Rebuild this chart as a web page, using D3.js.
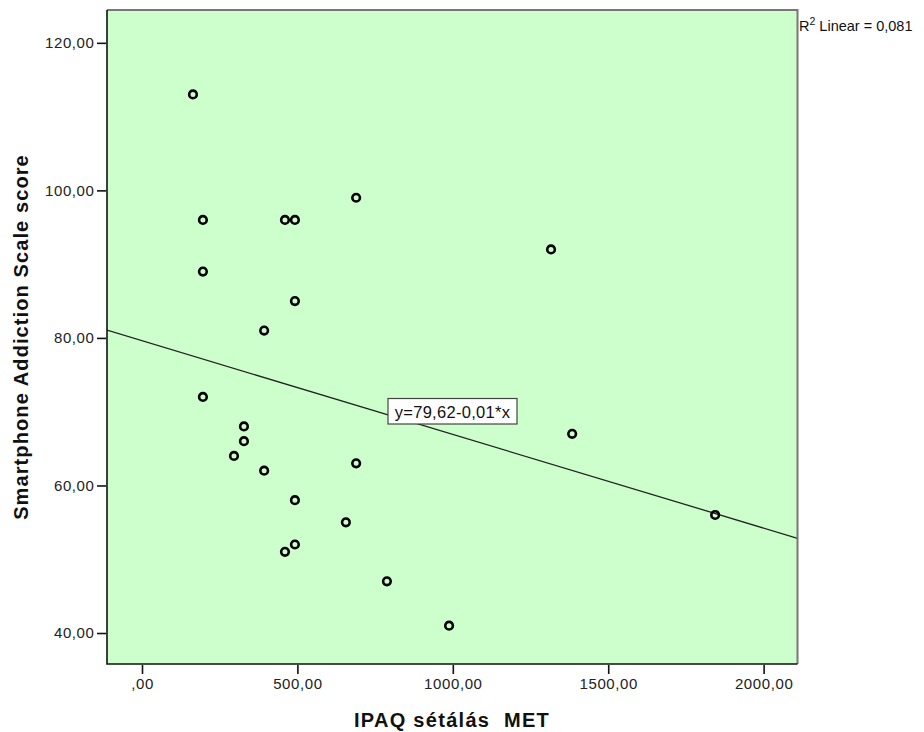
<!DOCTYPE html>
<html>
<head>
<meta charset="utf-8">
<script src="https://cdn.jsdelivr.net/npm/d3@7"></script>
<style>
  body { margin: 0; background: #fff; }
  svg { display: block; }
  text { font-family: "Liberation Sans", Arial, sans-serif; }
</style>
</head>
<body>
<svg id="chart" width="924" height="732"></svg>
<script>
// Walking MET (IPAQ) vs. Smartphone Addiction Scale score
const walkMET = [164, 196, 196, 196, 460, 492, 689, 492, 393, 328, 328, 296, 393, 689, 492, 656, 460, 492, 788, 988, 1316, 1384, 1844];
const sasScore = [113, 96, 89, 72, 96, 96, 99, 85, 81, 68, 66, 64, 62, 63, 58, 55, 51, 52, 47, 41, 92, 67, 56];

const xTicks = [0, 500, 1000, 1500, 2000];
const yTicks = [40, 60, 80, 100, 120];
const xDomain = [-112.6, 2109];
const yDomain = [35.8, 124.45];

// Fitted line y = 79,62 - 0,0127*x
const fitIntercept = 79.62;
const fitSlope = -0.0127;
const fitLabel = "y=79,62-0,01*x";
const r2Label = "0,081";

const svg = d3.select("#chart");
const m = { left: 107, top: 10, right: 797.5, bottom: 664 };

const x = d3.scaleLinear().domain(xDomain).range([m.left, m.right]);
const y = d3.scaleLinear().domain(yDomain).range([m.bottom, m.top]);

const fmt = v => (v === 0 ? "" : String(v)) + ",00";

// plot background
svg.append("rect")
  .attr("x", m.left).attr("y", m.top)
  .attr("width", m.right - m.left).attr("height", m.bottom - m.top)
  .attr("fill", "#ccffcc");

// clip for fit line
svg.append("clipPath").attr("id", "plotclip")
  .append("rect")
  .attr("x", m.left).attr("y", m.top)
  .attr("width", m.right - m.left).attr("height", m.bottom - m.top);

// regression line
const lineX = xDomain;
svg.append("line")
  .attr("clip-path", "url(#plotclip)")
  .attr("x1", x(lineX[0])).attr("y1", y(fitIntercept + fitSlope * lineX[0]))
  .attr("x2", x(lineX[1])).attr("y2", y(fitIntercept + fitSlope * lineX[1]))
  .attr("stroke", "#222").attr("stroke-width", 1.3);

// points
svg.append("g").selectAll("circle")
  .data(walkMET.map((d, i) => [d, sasScore[i]]))
  .join("circle")
  .attr("cx", d => x(d[0]))
  .attr("cy", d => y(d[1]))
  .attr("r", 3.8)
  .attr("fill", "none")
  .attr("stroke", "#000")
  .attr("stroke-width", 2.6);

// frame: top/right grey, left/bottom dark
svg.append("path")
  .attr("d", `M${m.left},${m.top}H${m.right}V${m.bottom}`)
  .attr("fill", "none").attr("stroke", "#777").attr("stroke-width", 2);
svg.append("path")
  .attr("d", `M${m.left},${m.top}V${m.bottom}H${m.right}`)
  .attr("fill", "none").attr("stroke", "#111").attr("stroke-width", 1.6);

// axes
const xAxis = d3.axisBottom(x).tickValues(xTicks).tickFormat(fmt).tickSize(9).tickPadding(4);
const gx = svg.append("g").attr("transform", `translate(0,${m.bottom + 1})`).call(xAxis);
gx.select(".domain").remove();
gx.selectAll(".tick line").attr("stroke", "#111").attr("stroke-width", 1.6);
gx.selectAll(".tick text").attr("font-size", 15).attr("fill", "#222")
  .attr("letter-spacing", 0.6)
  .attr("font-family", "'Liberation Sans', Arial, sans-serif");

const yAxis = d3.axisLeft(y).tickValues(yTicks).tickFormat(fmt).tickSize(9).tickPadding(2.5);
const gy = svg.append("g").attr("transform", `translate(${m.left - 1},0)`).call(yAxis);
gy.select(".domain").remove();
gy.selectAll(".tick line").attr("stroke", "#111").attr("stroke-width", 1.6);
gy.selectAll(".tick text").attr("font-size", 15).attr("fill", "#222")
  .attr("letter-spacing", 0.6)
  .attr("font-family", "'Liberation Sans', Arial, sans-serif");

// fit equation label
const lbl = svg.append("g");
lbl.append("rect")
  .attr("x", 388).attr("y", 398.5)
  .attr("width", 129).attr("height", 25.5)
  .attr("fill", "#fff").attr("stroke", "#444").attr("stroke-width", 1.2);
lbl.append("text")
  .attr("x", 452.5).attr("y", 411.5)
  .attr("text-anchor", "middle").attr("dominant-baseline", "central")
  .attr("font-size", 16.5).attr("fill", "#111")
  .attr("letter-spacing", 0.3)
  .text(fitLabel);

// R² label
const r2 = svg.append("text")
  .attr("x", m.right + 1.5).attr("y", 31)
  .attr("font-size", 14.5).attr("fill", "#111");
r2.append("tspan").text("R");
r2.append("tspan").attr("font-size", 10.5).attr("dy", -6).text("2");
r2.append("tspan").attr("dy", 6).text(" Linear = " + r2Label);

// axis titles
svg.append("text")
  .attr("x", 452).attr("y", 727)
  .attr("text-anchor", "middle")
  .attr("font-size", 20).attr("font-weight", "bold").attr("fill", "#111")
  .attr("letter-spacing", 1.3)
  .attr("xml:space", "preserve")
  .text("IPAQ sétálás  MET");

svg.append("text")
  .attr("transform", "translate(28,337) rotate(-90)")
  .attr("text-anchor", "middle")
  .attr("font-size", 20).attr("font-weight", "bold").attr("fill", "#111")
  .attr("letter-spacing", 1.1)
  .text("Smartphone Addiction Scale score");
</script>
</body>
</html>
